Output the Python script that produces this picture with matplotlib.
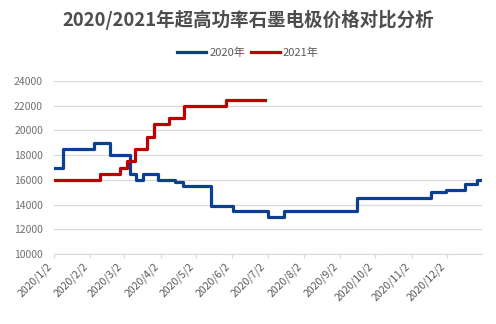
import matplotlib
matplotlib.use("Agg")
import matplotlib.pyplot as plt
import pandas as pd

plt.rcParams['font.family'] = ['Noto Sans CJK SC', 'DejaVu Sans']

# 2020年 价格变动点 (元/吨)
dates_2020 = ['2020-01-02', '2020-01-10', '2020-02-05', '2020-02-19', '2020-03-07',
              '2020-03-12', '2020-03-18', '2020-03-31', '2020-04-14', '2020-04-21',
              '2020-05-15', '2020-06-03', '2020-07-02', '2020-07-16', '2020-09-16',
              '2020-11-18', '2020-12-01', '2020-12-17', '2020-12-28', '2020-12-30']
price_2020 = [17000, 18500, 19000, 18000, 16500,
              16000, 16500, 16000, 15800, 15500,
              13900, 13500, 13000, 13500, 14500,
              15000, 15200, 15700, 16000, 16000]

# 2021年 价格变动点
dates_2021 = ['2021-01-02', '2021-02-10', '2021-02-27', '2021-03-04', '2021-03-11',
              '2021-03-21', '2021-03-27', '2021-04-09', '2021-04-22', '2021-05-28',
              '2021-06-30']
price_2021 = [16000, 16500, 17000, 17500, 18500,
              19500, 20500, 21000, 22000, 22500,
              22500]

tick_dates = ['2020-%02d-02' % m for m in range(1, 13)]
tick_labels = ['2020/%d/2' % m for m in range(1, 13)]
y_ticks = [10000, 12000, 14000, 16000, 18000, 20000, 22000, 24000]

x20 = pd.to_datetime(dates_2020)
# 2021年按月日对齐到同一横轴
x21 = pd.to_datetime([d.replace('2021', '2020', 1) for d in dates_2021])

fig = plt.figure(figsize=(4.96, 3.24), dpi=100)
ax = fig.add_axes([0.109, 0.216, 0.863, 0.534])

ax.plot(x20, price_2020, drawstyle='steps-post', color='#0b3f8f', lw=2.3, label='2020年')
ax.plot(x21, price_2021, drawstyle='steps-post', color='#c00000', lw=2.3, label='2021年')

ax.set_ylim(10000, 24000)
ax.set_yticks(y_ticks)
ax.set_xlim(pd.Timestamp('2020-01-02'), pd.Timestamp('2021-01-01'))
ax.set_xticks(pd.to_datetime(tick_dates))
ax.set_xticklabels(tick_labels, rotation=45, ha='right')

ax.grid(axis='y', color='#d9d9d9', lw=0.9)
ax.set_axisbelow(True)
for s in ['left', 'right', 'top']:
    ax.spines[s].set_visible(False)
ax.spines['bottom'].set_color('#d9d9d9')
ax.tick_params(axis='y', length=0, labelsize=7.5, labelcolor='#707070', pad=8)
ax.tick_params(axis='x', length=3, color='#d9d9d9', labelsize=7.5, labelcolor='#595959', pad=2)

fig.text(0.5, 0.938, '2020/2021年超高功率石墨电极价格对比分析', ha='center', va='center',
         fontsize=13.3, fontweight='bold', color='#4d4d4d')
fig.legend(loc='center', bbox_to_anchor=(0.5, 1 - 53 / 324), ncol=2, frameon=False,
           fontsize=8, handlelength=2.6, handletextpad=0.3, columnspacing=0.5,
           labelcolor='#595959')

fig.savefig('out.png', dpi=100)
